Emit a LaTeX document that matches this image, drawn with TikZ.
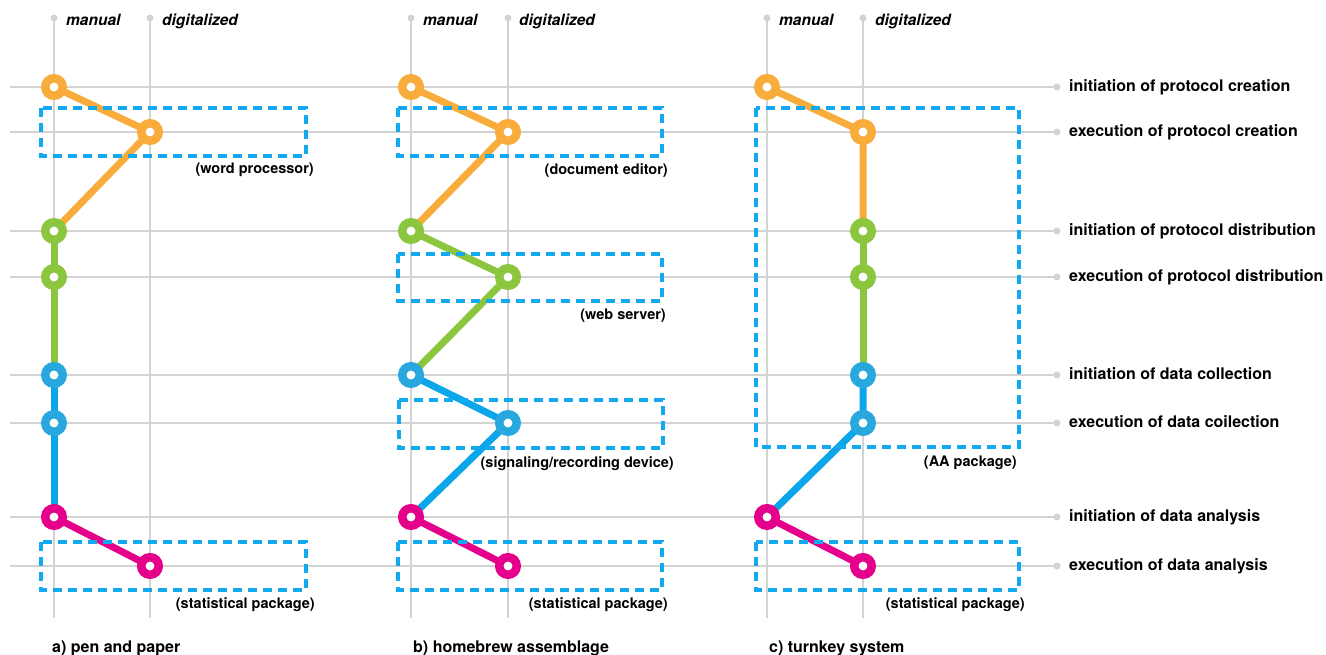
\documentclass[tikz,border=0pt]{standalone}
\usepackage{fontspec}
\setmainfont{TeX Gyre Heros}
\usetikzlibrary{positioning}

\definecolor{stageorange}{HTML}{F8AC3C}
\definecolor{stagegreen}{HTML}{8CC63F}
\definecolor{stageblue}{HTML}{29A8E0}
\definecolor{linkblue}{HTML}{0BA6EA}
\definecolor{stagemagenta}{HTML}{E5008B}
\definecolor{boxblue}{HTML}{12A9EE}
\definecolor{gridgray}{HTML}{D3D3D3}

\pgfdeclarelayer{bg}
\pgfsetlayers{bg,main}

\tikzset{
  grid line/.style={gridgray, line width=1.8pt},
  grid dot/.style={circle, fill=gridgray, inner sep=0pt, minimum size=7pt},
  stage/.style={circle, draw=#1, fill=white, line width=8.5pt, minimum size=17.5pt, inner sep=0pt},
  link/.style={#1, line width=7pt},
  tool box/.style={boxblue, line width=3.5pt, dash pattern=on 9pt off 6pt},
  tool label/.style={anchor=north east, inner sep=0pt, font=\bfseries\fontsize{14.5}{16}\selectfont},
  row label/.style={anchor=base west, inner sep=0pt, font=\bfseries\fontsize{16}{18}\selectfont},
  axis label/.style={anchor=base west, inner sep=0pt, font=\bfseries\itshape\fontsize{15.5}{18}\selectfont},
  panel title/.style={anchor=base west, inner sep=0pt, font=\bfseries\fontsize{16}{18}\selectfont}
}

\begin{document}
\begin{tikzpicture}[x=1pt,y=-1pt]
\useasboundingbox (0,0) rectangle (1326,655);

% grid: stage rows
\begin{pgfonlayer}{bg}
\foreach \y/\txt in {87/initiation of protocol creation,132/execution of protocol creation,
    231/initiation of protocol distribution,277/execution of protocol distribution,
    375/initiation of data collection,423/execution of data coilection,
    517/initiation of data analysis,566/execution of data analysis}{
  \node[grid dot] (end\y) at (1057,\y) {};
  \draw[grid line] (10,\y) -- (end\y.center);
  \node[row label] at (1069,\y+4.5) {\txt};
}
% grid: manual / digitalized columns
\foreach \x in {54,150,411,508,767,863}{
  \node[grid dot] (top\x) at (\x,18) {};
  \draw[grid line] (top\x.center) -- (\x,618);
}
\end{pgfonlayer}

\foreach \x in {54,411,767}{
  \node[axis label] at (\x+12,26) {manual};
  \node[axis label] at (\x+108,26) {digitalized};
}

% a) pen and paper
\node[stage=stageorange] (a1) at (54,87) {};
\node[stage=stageorange] (a2) at (150,132) {};
\node[stage=stagegreen] (a3) at (54,231) {};
\node[stage=stagegreen] (a4) at (54,277) {};
\node[stage=stageblue] (a5) at (54,375) {};
\node[stage=stageblue] (a6) at (54,423) {};
\node[stage=stagemagenta] (a7) at (54,517) {};
\node[stage=stagemagenta] (a8) at (150,566) {};

% b) homebrew assemblage
\node[stage=stageorange] (b1) at (411,87) {};
\node[stage=stageorange] (b2) at (508,132) {};
\node[stage=stagegreen] (b3) at (411,231) {};
\node[stage=stagegreen] (b4) at (508,277) {};
\node[stage=stageblue] (b5) at (411,375) {};
\node[stage=stageblue] (b6) at (508,423) {};
\node[stage=stagemagenta] (b7) at (411,517) {};
\node[stage=stagemagenta] (b8) at (508,566) {};

% c) turnkey system
\node[stage=stageorange] (c1) at (767,87) {};
\node[stage=stageorange] (c2) at (863,132) {};
\node[stage=stagegreen] (c3) at (863,231) {};
\node[stage=stagegreen] (c4) at (863,277) {};
\node[stage=stageblue] (c5) at (863,375) {};
\node[stage=stageblue] (c6) at (863,423) {};
\node[stage=stagemagenta] (c7) at (767,517) {};
\node[stage=stagemagenta] (c8) at (863,566) {};

\begin{pgfonlayer}{bg}
\foreach \p in {a,b,c}{
  \draw[link=stageorange] (\p1.center) -- (\p2.center) -- (\p3.center);
  \draw[link=stagegreen] (\p3.center) -- (\p4.center) -- (\p5.center);
  \draw[link=linkblue] (\p5.center) -- (\p6.center) -- (\p7.center);
  \draw[link=stagemagenta] (\p7.center) -- (\p8.center);
}
\end{pgfonlayer}

% tools
\draw[tool box] (41,108) rectangle (306,156);
\node[tool label] at (314,163) {(word processor)};
\draw[tool box] (41,542) rectangle (306,590);
\node[tool label] at (315,597) {(statistical package)};

\draw[tool box] (398,108) rectangle (662,156);
\node[tool label] at (668,163) {(document editor)};
\draw[tool box] (398,254) rectangle (662,301);
\node[tool label] at (666,309) {(web server)};
\draw[tool box] (399,400) rectangle (663,448);
\node[tool label] at (674,456) {(signaling/recording device)};
\draw[tool box] (398,542) rectangle (662,590);
\node[tool label] at (668,597) {(statistical package)};

\draw[tool box] (756,108) rectangle (1019,447);
\node[tool label] at (1017,456) {(AA package)};
\draw[tool box] (756,542) rectangle (1019,590);
\node[tool label] at (1025,597) {(statistical package)};

% panel titles
\node[panel title] at (52,652) {a) pen and paper};
\node[panel title] at (413,652) {b) homebrew assemblage};
\node[panel title] at (769,652) {c) turnkey system};
\end{tikzpicture}
\end{document}
